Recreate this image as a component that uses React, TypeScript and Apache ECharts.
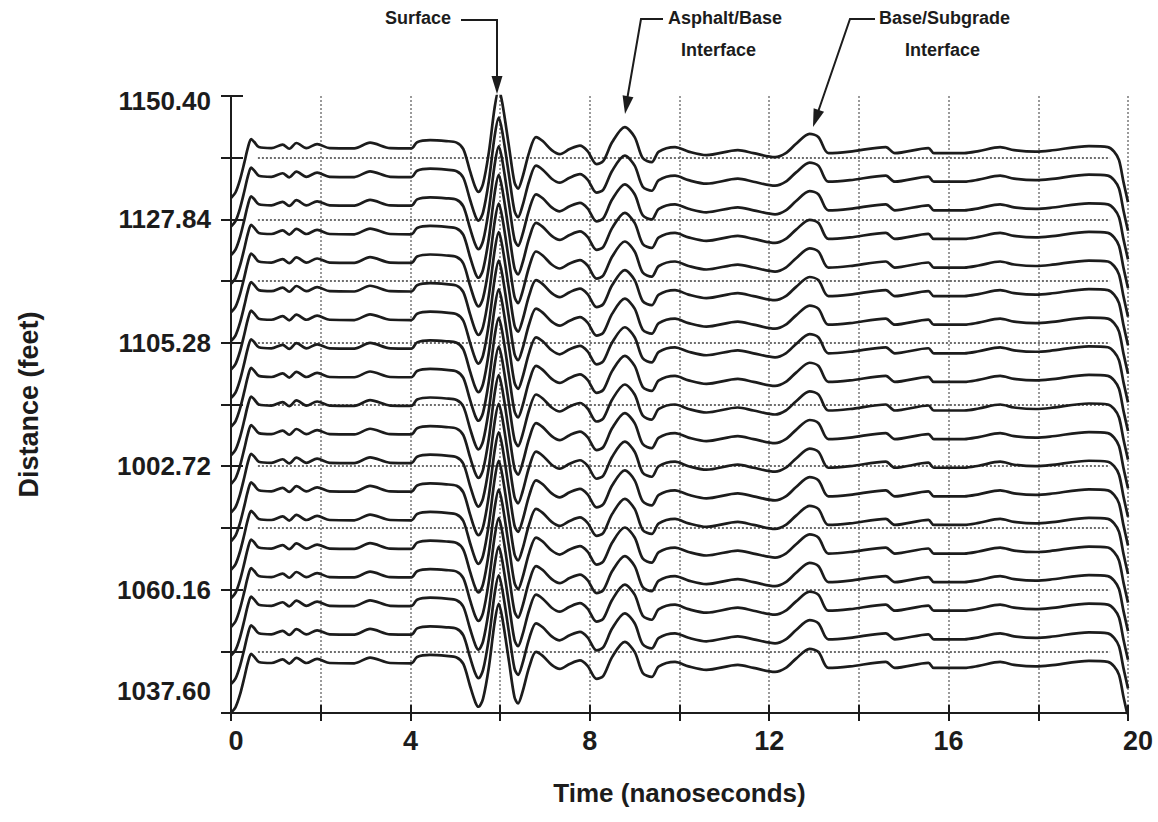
import React, { useEffect, useRef } from "react";
import * as echarts from "echarts";

// Time samples (nanoseconds) of the recorded waveform
const times = [0, 0.1, 0.2, 0.3, 0.38, 0.45, 0.52, 0.62, 0.9, 1.15, 1.3, 1.46, 1.68, 1.92, 2.2, 2.75, 3.1, 3.55, 4.02, 4.15, 4.44, 4.8, 5.03, 5.18, 5.33, 5.45, 5.52, 5.62, 5.75, 5.88, 5.97, 6.05, 6.2, 6.32, 6.4, 6.5, 6.65, 6.8, 6.95, 7.15, 7.33, 7.55, 7.78, 7.95, 8.15, 8.3, 8.5, 8.78, 9.0, 9.18, 9.38, 9.54, 9.9, 10.2, 10.6, 11.3, 11.65, 12.13, 12.37, 12.6, 12.9, 13.1, 13.32, 13.8, 14.6, 14.8, 15.55, 15.67, 16.35, 16.67, 17.15, 17.46, 17.94, 18.26, 19.13, 19.55, 19.69, 19.8, 19.9, 20.0];
// Trace amplitude (plotted in feet-equivalent units about each trace's distance)
const amplitudes = [-9.3, -8.3, -6.0, -2.75, 0, 1.46, 0.92, 0, -0.2, 0.45, -0.3, 0.75, -0.2, 0.55, -0.2, -0.25, 0.8, -0.2, -0.25, 0.9, 1.28, 1.1, 0.82, -0.37, -4.4, -7.4, -8.2, -6.7, -0.92, 7.32, 10.6, 8.0, 0, -6.41, -7.6, -5.49, -0.92, 1.83, 1.1, -0.55, -1.28, -0.37, 0.27, -0.73, -3.11, -2.56, 0.92, 3.66, 1.83, -2.01, -2.75, -0.82, 0, -0.82, -1.46, -0.55, -1.1, -1.83, -1.1, 0.6, 2.4, 1.8, -1.1, -0.82, 0, -1.1, -0.18, -1.1, -1.1, -0.73, 0, -0.55, -0.82, -0.64, 0.18, 0, -0.82, -2.38, -6.41, -10.07];
// Distance (feet) of each trace, top to bottom
const traceDistances = [1141.06, 1135.83, 1130.6, 1125.37, 1120.14, 1114.91, 1109.69, 1104.46, 1099.23, 1094.0, 1088.77, 1083.54, 1078.31, 1073.08, 1067.85, 1062.63, 1057.4, 1052.17, 1046.94];
// Axis
const yBase = 1037.6;
const yRange = 112.8;
const yStep = 11.28;
const yTickLabels = ["1037.60", "", "1060.16", "", "1002.72", "", "1105.28", "", "1127.84", "", "1150.40"];
const xTickLabels = ["0", "", "4", "", "8", "", "12", "", "16", "", "20"];
const gridLineFrom = 0.6;
const gridLineTo = 19.6;

export default function App() {
  const ref = useRef<HTMLDivElement>(null);
  useEffect(() => {
    if (!ref.current) return;
    const chart = echarts.init(ref.current, undefined, { renderer: "svg" });
    const font = "'Liberation Sans', Arial, Helvetica, sans-serif";
    const ink = "#1c1c1c";

    const hLines = yTickLabels.slice(1, -1).map((_, i) => {
      const v = (i + 1) * yStep;
      return [{ coord: [gridLineFrom, v] }, { coord: [gridLineTo, v] }];
    });

    const series: any[] = traceDistances.map((d, k) => ({
      type: "line",
      data: times.map((t, i) => [t, d - yBase + amplitudes[i]]),
      showSymbol: false,
      smooth: 0.3,
      lineStyle: { color: ink, width: 2.7 },
      clip: true,
      z: 3,
      markLine:
        k === 0
          ? {
              silent: true,
              symbol: ["none", "none"],
              label: { show: false },
              lineStyle: { color: "#6e6e6e", type: [2, 2], width: 1.8 },
              data: hLines,
              z: 1,
            }
          : undefined,
    }));

    const labelStyle = { fontFamily: font, fontWeight: "bold", fontSize: 26, color: ink };

    const arrowHead = (tipX: number, tipY: number, angleDeg: number) => {
      const a = (angleDeg * Math.PI) / 180;
      const len = 18;
      const half = 5.5;
      const bx = tipX - Math.cos(a) * len;
      const by = tipY - Math.sin(a) * len;
      const px = -Math.sin(a) * half;
      const py = Math.cos(a) * half;
      return {
        type: "polygon",
        shape: { points: [[tipX, tipY], [bx + px, by + py], [bx - px, by - py]] },
        style: { fill: ink },
      };
    };
    const angle = (x1: number, y1: number, x2: number, y2: number) =>
      (Math.atan2(y2 - y1, x2 - x1) * 180) / Math.PI;
    const annFont = { fontFamily: font, fontWeight: "bold", fontSize: 18, fill: ink };

    chart.setOption({
      animation: false,
      backgroundColor: "#ffffff",
      grid: { left: 231, right: 30, top: 96, bottom: 109 },
      xAxis: [
        {
          type: "value",
          min: 0,
          max: 20,
          interval: 2,
          position: "bottom",
          name: "Time (nanoseconds)",
          nameLocation: "middle",
          nameGap: 67,
          nameTextStyle: { ...labelStyle, fontSize: 26 },
          axisLine: { show: true, lineStyle: { color: ink, width: 2 } },
          axisTick: { show: true, inside: true, length: 8, lineStyle: { color: ink, width: 2 } },
          axisLabel: {
            margin: 14,
            formatter: (v: number) => {
              const idx = Math.round(v / 2);
              const txt = xTickLabels[idx] ?? "";
              if (!txt) return "";
              if (idx === 0) return "{f|" + txt + "}";
              if (idx === xTickLabels.length - 1) return "{l|" + txt + "}";
              return "{n|" + txt + "}";
            },
            rich: {
              n: { ...labelStyle, fontSize: 27 },
              f: { ...labelStyle, fontSize: 27, padding: [0, 0, 0, 10] },
              l: { ...labelStyle, fontSize: 27, padding: [0, 0, 0, 20] },
            },
          },
          splitLine: { show: true, lineStyle: { color: "#7a7a7a", type: [2, 2], width: 1.5 } },
        },
        {
          type: "value",
          min: 0,
          max: 20,
          interval: 2,
          position: "top",
          axisLine: { show: true, lineStyle: { color: ink, width: 2 } },
          axisTick: { show: true, inside: true, length: 8, lineStyle: { color: ink, width: 2 } },
          axisLabel: { show: false },
          splitLine: { show: false },
        },
      ],
      yAxis: [
        {
          type: "value",
          min: 0,
          max: yRange,
          interval: yStep,
          position: "left",
          name: "Distance (feet)",
          nameLocation: "middle",
          nameGap: 189,
          nameRotate: 90,
          nameTextStyle: { ...labelStyle, fontSize: 27 },
          axisLine: { show: true, lineStyle: { color: ink, width: 2 } },
          axisTick: { show: true, inside: true, length: 12, lineStyle: { color: ink, width: 2 } },
          axisLabel: {
            margin: 20,
            formatter: (v: number) => {
              const idx = Math.round(v / yStep);
              const txt = yTickLabels[idx] ?? "";
              if (!txt) return "";
              if (idx === 0) return "{lo|" + txt + "}";
              if (idx === yTickLabels.length - 1) return "{hi|" + txt + "}";
              return "{n|" + txt + "}";
            },
            rich: {
              n: { ...labelStyle },
              lo: { ...labelStyle, padding: [0, 0, 44, 0] },
              hi: { ...labelStyle, padding: [10, 0, 0, 0] },
            },
          },
          splitLine: { show: false },
        },
        {
          type: "value",
          min: 0,
          max: yRange,
          interval: yStep,
          position: "right",
          axisLine: { show: true, lineStyle: { color: ink, width: 2 } },
          axisTick: { show: true, inside: true, length: 10, lineStyle: { color: ink, width: 2 } },
          axisLabel: { show: false },
          splitLine: { show: false },
        },
      ],
      series,
      graphic: [
        { type: "text", left: 385, top: 9, style: { ...annFont, text: "Surface" } },
        { type: "polyline", shape: { points: [[461, 20], [497, 20], [497, 80]] }, style: { stroke: ink, lineWidth: 2, fill: null } },
        arrowHead(497, 94, 90),
        { type: "text", left: 668, top: 9, style: { ...annFont, text: "Asphalt/Base" } },
        { type: "text", left: 681, top: 41, style: { ...annFont, text: "Interface" } },
        { type: "polyline", shape: { points: [[663, 19], [641, 19], [627, 100]] }, style: { stroke: ink, lineWidth: 2, fill: null } },
        arrowHead(625, 114, angle(641, 19, 625, 114)),
        { type: "text", left: 879, top: 9, style: { ...annFont, text: "Base/Subgrade" } },
        { type: "text", left: 905, top: 41, style: { ...annFont, text: "Interface" } },
        { type: "polyline", shape: { points: [[875, 19], [850, 19], [818, 112]] }, style: { stroke: ink, lineWidth: 2, fill: null } },
        arrowHead(813, 127, angle(850, 19, 813, 127)),
      ],
    });
    return () => chart.dispose();
  }, []);
  return (
    <div
      ref={ref}
      style={{ position: "fixed", left: 0, top: 0, width: 1158, height: 822, background: "#fff" }}
    />
  );
}
